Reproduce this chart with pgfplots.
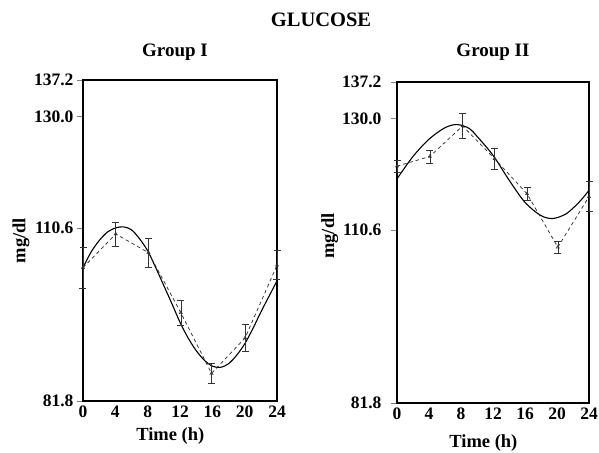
\documentclass[border=0pt]{standalone}
\usepackage{fontspec}
\setmainfont{Liberation Serif}
\usepackage{pgfplots}
\usepackage{pgfplotstable}
\pgfplotsset{compat=1.18}
% Group I: measured means (t, mg/dl, SE)
\pgfplotstableread{
t v e
0 104.0 3.5
4.05 109.6 2.1
8.1 106.5 2.45
12.1 96.5 2.2
15.9 86.4 1.8
20.05 92.3 2.35
24 104.4 2.5
}\gIdata
% Group I: fitted curve
\pgfplotstableread{
t v
0 104.0
1 106.6
2 108.5
3 109.9
4 110.6
5 110.8
6 110.3
7 108.8
8 106.8
9 104.0
10 101.0
11 98.0
12 94.9
13 92.3
14 90.2
15 88.6
16 87.6
17 87.4
18 88.0
19 89.4
20 91.3
21 93.8
22 96.6
23 99.2
24 101.8
}\gIfit
% Group II: measured means
\pgfplotstableread{
t v e
0 121.7 1.1
4.1 123.4 1.1
8.2 128.7 2.1
12.2 123.0 1.75
16.25 116.9 1.2
20.1 107.75 1.0
24 116.4 2.6
}\gIIdata
% Group II: fitted curve
\pgfplotstableread{
t v
0 119.5
2 123.4
4 126.4
6 128.4
7.5 128.95
9 128.3
10 126.9
12 123.6
14 119.3
16 115.4
18 113.1
19.5 112.6
21 113.3
22 114.4
23 115.8
24 117.5
}\gIIfit
\begin{document}
\begin{tikzpicture}[x=1pt,y=1pt]
\useasboundingbox (0,0) rectangle (599,452);
\pgfplotsset{
  panel/.style={
    scale only axis, height=321pt,
    xmin=0, xmax=24, ymin=81.8, ymax=137.2,
    y coord trafo/.code={\pgfmathparse{##1<110.6 ? 81.8+(##1-81.8)*1.0368 : (##1<130 ? 111.66+(##1-110.6)*0.992 : 130.905+(##1-130)*0.875)}},
    xtick={0,4,8,12,16,20,24},
    ytick={81.8,110.6,130.0,137.2},
    yticklabels={81.8,110.6,130.0,137.2},
    /pgf/number format/assume math mode=true,
    ticklabel style={font=\fontsize{17.5}{19}\selectfont\bfseries},
    label style={font=\fontsize{18.5}{20}\selectfont\bfseries},
    xtick style={draw=none},
    ytick pos=left, tick align=outside, major tick length=6pt,
    ytick style={line width=0.8pt},
    axis line style={line width=1.1pt},
    xticklabel style={yshift=2pt, inner ysep=1pt},
    xlabel={Time (h)},
    ylabel={mg/dl},
    clip=false,
  },
  fit/.style={black, line width=1.1pt, smooth, no markers},
  meas/.style={gray!40!black, line width=0.75pt, dash pattern=on 3.5pt off 3pt,
    mark=triangle, mark size=1.8pt, mark options={solid, line width=0.5pt},
    error bars/.cd, y dir=both, y explicit,
    error bar style={solid, line width=0.6pt, black!80},
    error mark options={rotate=90, mark size=3.5pt, line width=0.6pt, black!80}},
}
\begin{axis}[panel, width=194pt, at={(83pt,51pt)}, anchor=south west,
  ylabel style={at={(axis description cs:-0.32,0.5)}, anchor=center, rotate=0},
  xlabel style={at={(axis description cs:0.45,-0.108)}, anchor=center},
  yticklabel style={xshift=0pt}]
\draw[line width=2.2pt] (axis cs:0,137.2) -- (axis cs:24,137.2);
\addplot[fit] table[x=t,y=v] {\gIfit};
\addplot[meas] table[x=t,y=v,y error=e] {\gIdata};
\end{axis}
\begin{axis}[panel, width=192pt, at={(397pt,49pt)}, anchor=south west,
  ylabel style={at={(axis description cs:-0.35,0.52)}, anchor=center, rotate=0},
  xlabel style={at={(axis description cs:0.45,-0.125)}, anchor=center},
  yticklabel style={xshift=-6pt}]
\draw[line width=2pt] (axis cs:0,81.8) -- (axis cs:24,81.8);
\addplot[fit] table[x=t,y=v] {\gIIfit};
\addplot[meas] table[x=t,y=v,y error=e] {\gIIdata};
\end{axis}
\node[font=\fontsize{20.5}{22}\selectfont\bfseries] at (321,432) {GLUCOSE};
\node[font=\fontsize{19}{21}\selectfont\bfseries] at (175,400) {Group I};
\node[font=\fontsize{19}{21}\selectfont\bfseries] at (493,400) {Group II};
\end{tikzpicture}
\end{document}
